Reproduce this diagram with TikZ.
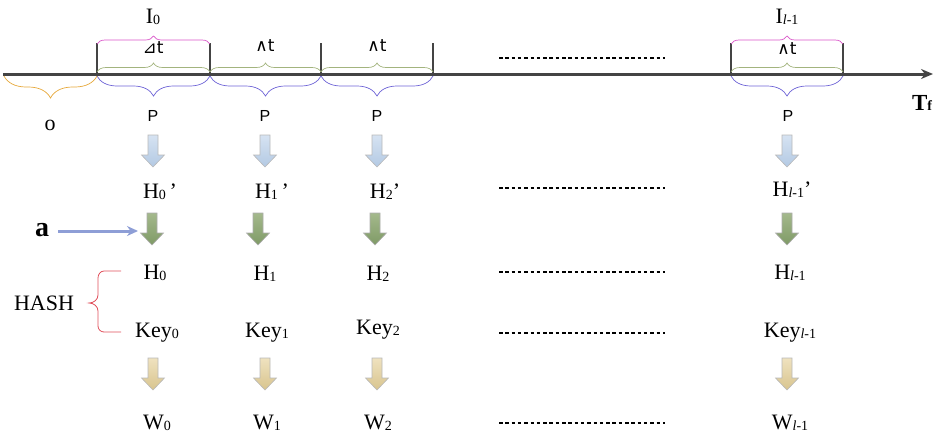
\documentclass[tikz,border=0pt]{standalone}
\usepackage{fontspec}
\setmainfont{Liberation Serif}
\newfontfamily\sansf{Liberation Sans}
\newfontfamily\djf{DejaVu Sans}
\usetikzlibrary{decorations.pathreplacing,arrows.meta}
\definecolor{axisc}{HTML}{444444}
\definecolor{pinkc}{HTML}{D955C8}
\definecolor{greenc}{HTML}{A3B47E}
\definecolor{violetc}{HTML}{6E64D6}
\definecolor{orangec}{HTML}{E6A83A}
\definecolor{redc}{HTML}{E0505C}
\definecolor{arrowa}{HTML}{8E9ED6}
\definecolor{blueT}{HTML}{D6E3F2}
\definecolor{blueB}{HTML}{B3C9E3}
\definecolor{greenT}{HTML}{A4B98C}
\definecolor{greenB}{HTML}{7F9A66}
\definecolor{tanT}{HTML}{EFE2BF}
\definecolor{tanB}{HTML}{D8C48E}
\newcommand{\sbs}[1]{\raisebox{-0.8pt}{\fontsize{14}{14}\selectfont #1}}
\newcommand{\lsb}{\sbs{\textit{l}-1}}
\tikzset{
  lab/.style={font=\fontsize{22}{22}\selectfont, inner sep=0pt, anchor=center},
  plab/.style={font=\sansf\fontsize{16}{16}\selectfont, inner sep=0pt},
  dlab/.style={font=\djf\fontsize{17}{17}\selectfont, inner sep=0pt},
  tickline/.style={line width=1.5pt, draw=axisc},
  dotline/.style={line width=1.8pt, dash pattern=on 3.5pt off 2.8pt},
  bracedeco/.style={decorate, decoration={brace, amplitude=#1}, line width=0.7pt},
  barrow/.pic={\shadedraw[pic actions] (-5,0) -- (5,0) -- (5,20) -- (11.5,20) -- (0,32) -- (-11.5,20) -- (-5,20) -- cycle;},
  bluearr/.style={top color=blueT, bottom color=blueB, draw=gray!55, line width=0.6pt},
  greenarr/.style={top color=greenT, bottom color=greenB, draw=gray!65, line width=0.6pt},
  tanarr/.style={top color=tanT, bottom color=tanB, draw=gray!55, line width=0.6pt},
}
\begin{document}
\begin{tikzpicture}[x=1pt,y=-1pt]
\useasboundingbox (0,0) rectangle (935,434);
% axis
\coordinate (ax0) at (3,74);
\coordinate (ax1) at (933,74);
\draw[line width=3pt, draw=axisc, -{Stealth[length=12pt,width=10pt]}] (ax0) -- (ax1);
% ticks
\foreach \x/\n in {97/t0,210/t1,321/t2,433/t3,731/t4,843/t5}{
  \coordinate (\n top) at (\x,43);
  \coordinate (\n bot) at (\x,74);
  \draw[tickline] (\n top) -- (\n bot);
}
% pink braces
\draw[bracedeco=8pt, draw=pinkc] (97,44) -- (210,44);
\draw[bracedeco=8pt, draw=pinkc] (731,44) -- (843,44);
% green braces
\foreach \a/\b in {97/210,210/321,321/433,731/843}{
  \draw[bracedeco=9pt, draw=greenc] (\a,72) -- (\b,72);
}
% violet braces
\foreach \a/\b in {97/210,210/321,321/433,731/843}{
  \draw[bracedeco=20pt, draw=violetc] (\b,76) -- (\a,76);
}
% orange brace
\draw[bracedeco=22pt, draw=orangec] (97,76) -- (4,76);
% labels top
\node[lab] (I0) at (153,17) {I\sbs{0}};
\node[lab] (Il) at (787,17) {I\lsb};
\node[dlab] (d0) at (153,48) {⊿t};
\node[dlab] (d1) at (265,46) {∧t};
\node[dlab] (d2) at (377,46) {∧t};
\node[dlab] (d3) at (787,49) {∧t};
\node[lab, font=\bfseries\fontsize{23}{23}\selectfont] (Tf) at (922,103) {T\sbs{f}};
\node[lab] (o) at (50,125) {o};
% P row
\foreach \x/\n in {153/0,265/1,377/2,788/3}{
  \node[plab] (P\n) at (\x,116) {P};
}
% blue block arrows
\foreach \x in {153,265,377,787}{
  \pic[bluearr] at (\x,135) {barrow};
}
% H' row
\node[lab] (Hp0) at (160,192) {H\sbs{0}\,’};
\node[lab] (Hp1) at (272,192) {H\sbs{1}\,’};
\node[lab] (Hp2) at (385,192) {H\sbs{2}’};
\node[lab] (Hpl) at (792,190) {H\lsb’};
% green block arrows
\foreach \x in {152,258,375,787}{
  \pic[greenarr] at (\x,213) {barrow};
}
% a arrow
\node[lab, font=\bfseries\fontsize{28}{28}\selectfont] (a) at (42,230) {a};
\coordinate (ga) at (138,231);
\draw[line width=3pt, draw=arrowa, -{Stealth[length=11pt,width=10pt]}] (58,231) -- (ga);
% H row
\node[lab] (H0) at (155,273) {H\sbs{0}};
\node[lab] (H1) at (265,274) {H\sbs{1}};
\node[lab] (H2) at (378,274) {H\sbs{2}};
\node[lab] (Hl) at (790,273) {H\lsb};
% HASH
\node[lab] (hash) at (44,303) {HASH};
\draw[draw=redc, line width=0.8pt] (121,271) -- (104,271) to[out=180,in=90] (98,278) -- (98,295) to[out=-90,in=0] (89,303) to[out=0,in=90] (98,311) -- (98,326) to[out=-90,in=180] (104,332) -- (121,332);
% Key row
\node[lab] (K0) at (157,333) {Key\sbs{0}};
\node[lab] (K1) at (267,333) {Key\sbs{1}};
\node[lab] (K2) at (378,330) {Key\sbs{2}};
\node[lab] (Kl) at (790,333) {Key\lsb};
% tan arrows
\foreach \x in {153,265,377,787}{
  \pic[tanarr] at (\x,358) {barrow};
}
% W row
\node[lab] (W0) at (157,423) {W\sbs{0}};
\node[lab] (W1) at (267,423) {W\sbs{1}};
\node[lab] (W2) at (378,423) {W\sbs{2}};
\node[lab] (Wl) at (790,423) {W\lsb};
% dotted lines
\foreach \y in {58,188,272,333,423}{
  \draw[dotline] (499,\y) -- (665,\y);
}
\end{tikzpicture}
\end{document}
